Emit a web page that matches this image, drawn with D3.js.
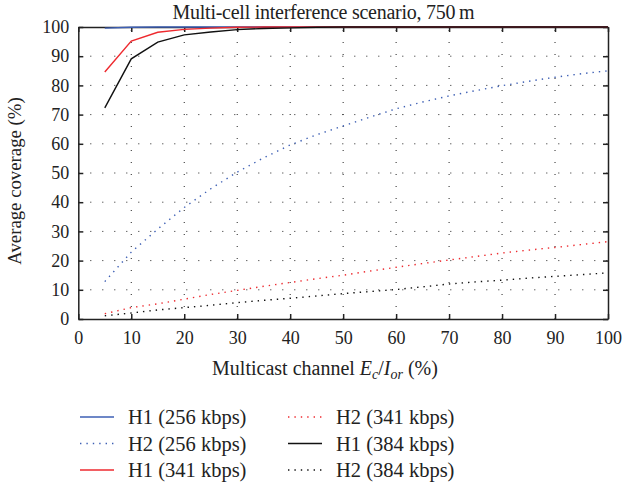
<!DOCTYPE html>
<html>
<head>
<meta charset="utf-8">
<script src="https://cdn.jsdelivr.net/npm/d3@7"></script>
<style>
  html, body { margin: 0; padding: 0; background: #fff; }
  svg { display: block; }
  text { font-family: "Liberation Serif", "DejaVu Serif", serif; fill: #222; }
</style>
</head>
<body>
<svg id="chart" width="624" height="484"></svg>
<script>
// Multicast channel Ec/Ior (%) sample points
const ecIor = [5, 10, 15, 20, 25, 30, 35, 40, 45, 50, 55, 60, 65, 70, 75, 80, 85, 90, 95, 100];

// Average coverage (%) per scheme and bit rate
const h1_256 = [99.6, 99.9, 100, 100, 100, 100, 100, 100, 100, 100, 100, 100, 100, 100, 100, 100, 100, 100, 100, 100];
const h2_256 = [12.8, 22.9, 30.8, 38.2, 44.6, 50.3, 55.2, 59.6, 63.1, 66.1, 69.1, 72.0, 74.3, 76.4, 78.2, 79.9, 81.4, 82.8, 84.0, 85.0];
const h1_341 = [84.6, 95.2, 98.2, 99.2, 99.6, 99.9, 100, 100, 100, 100, 100, 100, 100, 100, 100, 100, 100, 100, 100, 100];
const h2_341 = [1.8, 3.9, 5.2, 6.8, 8.4, 9.8, 11.2, 12.5, 13.8, 15.0, 16.4, 17.7, 19.0, 20.2, 21.4, 22.6, 23.6, 24.5, 25.5, 26.5];
const h1_384 = [72.3, 89.1, 94.8, 97.3, 98.3, 99.1, 99.5, 99.7, 99.9, 100, 100, 100, 100, 100, 100, 100, 100, 100, 100, 100];
const h2_384 = [1.1, 2.05, 3.1, 3.9, 4.7, 5.6, 6.4, 7.1, 7.9, 8.7, 9.4, 10.1, 11.0, 12.0, 12.7, 13.3, 14.0, 14.6, 15.2, 15.8];

const seriesNames = ["H1 (256 kbps)", "H2 (256 kbps)", "H1 (341 kbps)", "H2 (341 kbps)", "H1 (384 kbps)", "H2 (384 kbps)"];
const xTicks = [0, 10, 20, 30, 40, 50, 60, 70, 80, 90, 100];
const yTicks = [0, 10, 20, 30, 40, 50, 60, 70, 80, 90, 100];

const series = [
  { name: seriesNames[0], values: h1_256, color: "#3d5fb4", dotted: false },
  { name: seriesNames[1], values: h2_256, color: "#3d5fb4", dotted: true },
  { name: seriesNames[2], values: h1_341, color: "#ee2a2f", dotted: false },
  { name: seriesNames[3], values: h2_341, color: "#ee2a2f", dotted: true },
  { name: seriesNames[4], values: h1_384, color: "#111111", dotted: false },
  { name: seriesNames[5], values: h2_384, color: "#111111", dotted: true }
];

const svg = d3.select("#chart");
const plot = { left: 78.3, right: 608, top: 27, bottom: 319 };
const serif = '"Liberation Serif", "DejaVu Serif", serif';

const x = d3.scaleLinear().domain([0, 100]).range([plot.left, plot.right]);
const y = d3.scaleLinear().domain([0, 100]).range([plot.bottom, plot.top]);

// Dotted grid
const grid = svg.append("g");
grid.selectAll("line.gx").data(xTicks.slice(1, -1)).join("line")
  .attr("x1", d => x(d)).attr("x2", d => x(d))
  .attr("y1", plot.bottom).attr("y2", plot.top)
  .attr("stroke", "#222").attr("stroke-width", 1)
  .attr("stroke-dasharray", "1,11");
grid.selectAll("line.gy").data(yTicks.slice(1, -1)).join("line")
  .attr("y1", d => y(d)).attr("y2", d => y(d))
  .attr("x1", plot.left).attr("x2", plot.right)
  .attr("stroke", "#222").attr("stroke-width", 1)
  .attr("stroke-dasharray", "1,11");

// Axes with inward ticks on all four sides
const tickLen = 5;
const axisFont = g => g.attr("font-family", serif).selectAll("text")
  .style("font-family", serif)
  .style("font-size", "18px").attr("fill", "#222");
const styleAxis = g => {
  g.select(".domain").attr("stroke", "#222").attr("stroke-width", 1.5);
  g.selectAll(".tick line").attr("stroke", "#222").attr("stroke-width", 1.5);
};

svg.append("g").attr("transform", `translate(0,${plot.bottom})`)
  .call(d3.axisBottom(x).tickValues(xTicks).tickSizeInner(-tickLen).tickSizeOuter(0).tickPadding(12))
  .call(styleAxis)
  .call(axisFont);

svg.append("g").attr("transform", `translate(0,${plot.top})`)
  .call(d3.axisTop(x).tickValues(xTicks).tickSizeInner(-tickLen).tickSizeOuter(0).tickFormat(""))
  .call(styleAxis);

svg.append("g").attr("transform", `translate(${plot.left},0)`)
  .call(d3.axisLeft(y).tickValues(yTicks).tickSizeInner(-tickLen).tickSizeOuter(0).tickPadding(9))
  .call(styleAxis)
  .call(axisFont);

svg.append("g").attr("transform", `translate(${plot.right},0)`)
  .call(d3.axisRight(y).tickValues(yTicks).tickSizeInner(-tickLen).tickSizeOuter(0).tickFormat(""))
  .call(styleAxis);

// Coverage curves
const line = d3.line().x((d, i) => x(ecIor[i])).y(d => y(d));
svg.append("g").selectAll("path").data(series).join("path")
  .attr("d", d => line(d.values))
  .attr("fill", "none")
  .attr("stroke", d => d.color)
  .attr("stroke-width", 1.4)
  .attr("stroke-dasharray", d => d.dotted ? "1.4,5" : null);

// Title and axis labels
svg.append("text").attr("x", 323.5).attr("y", 19).attr("text-anchor", "middle")
  .attr("textLength", 302).attr("lengthAdjust", "spacing")
  .style("font-size", "20px").text("Multi-cell interference scenario, 750\u2009m");

svg.append("text").attr("transform", "translate(21,181) rotate(-90)")
  .attr("text-anchor", "middle").style("font-size", "18.8px").text("Average coverage (%)");

const xl = svg.append("text").attr("x", 325).attr("y", 375).attr("text-anchor", "middle")
  .style("font-size", "20px");
xl.append("tspan").text("Multicast channel ");
xl.append("tspan").style("font-style", "italic").text("E");
xl.append("tspan").style("font-style", "italic").style("font-size", "14px").attr("dy", 4).text("c");
xl.append("tspan").attr("dy", -4).text("/");
xl.append("tspan").style("font-style", "italic").text("I");
xl.append("tspan").style("font-style", "italic").style("font-size", "14px").attr("dy", 4).text("or");
xl.append("tspan").attr("dy", -4).text(" (%)");

// Legend: two columns of three entries
const legend = svg.append("g");
const legItems = legend.selectAll("g").data(series).join("g")
  .attr("transform", (d, i) => `translate(${i < 3 ? 80 : 288},${417 + (i % 3) * 26.5})`);
legItems.append("line")
  .attr("x1", 0).attr("x2", 34).attr("y1", 0).attr("y2", 0)
  .attr("stroke", d => d.color).attr("stroke-width", 1.6)
  .attr("stroke-dasharray", d => d.dotted ? "1.4,5" : null);
legItems.append("text")
  .attr("x", 48).attr("y", 7).style("font-size", "20.5px").text(d => d.name);
</script>
</body>
</html>
